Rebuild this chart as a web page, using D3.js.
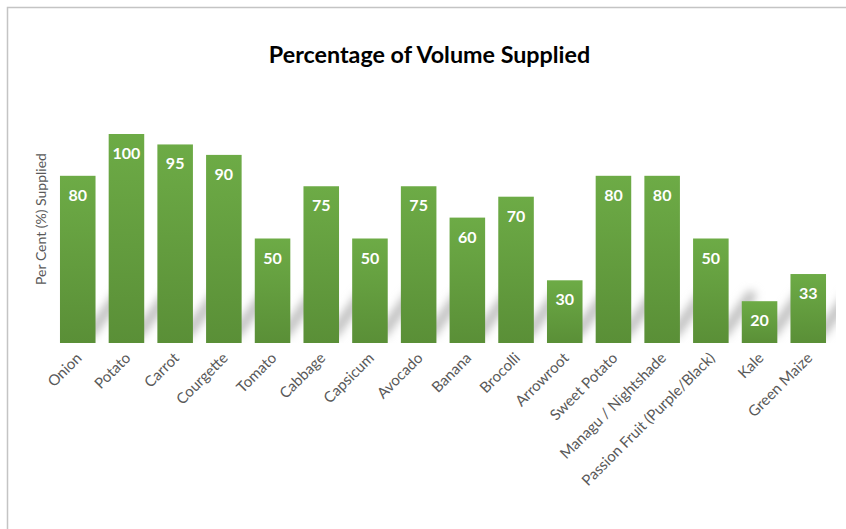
<!DOCTYPE html>
<html>
<head>
<meta charset="utf-8">
<script src="https://cdn.jsdelivr.net/npm/d3@7"></script>
<style>
  html, body { margin: 0; padding: 0; background: #fff; }
  svg { display: block; }
</style>
</head>
<body>
<svg id="chart" width="846" height="529"></svg>
<script>
const categories = ["Onion", "Potato", "Carrot", "Courgette", "Tomato", "Cabbage", "Capsicum", "Avocado",
  "Banana", "Brocolli", "Arrowroot", "Sweet Potato", "Managu / Nightshade", "Passion Fruit (Purple/Black)",
  "Kale", "Green Maize"];
const values = [80, 100, 95, 90, 50, 75, 50, 75, 60, 70, 30, 80, 80, 50, 20, 33];
const yDomain = [0, 100];
const titleText = "Percentage of Volume Supplied";
const yTitle = "Per Cent (%) Supplied";

(function () {
const svg = d3.select("#chart");
const W = 846, H = 529;
const base = 343, plotTop = 134;

const x = d3.scaleBand().domain(categories).range([53.4, 832.6]).paddingInner(0.27).paddingOuter(0.135);
const y = d3.scaleLinear().domain(yDomain).range([base, plotTop]);

const defs = svg.append("defs");
const grad = defs.append("linearGradient").attr("id", "barGrad").attr("x1", 0).attr("y1", 0).attr("x2", 0).attr("y2", 1);
grad.append("stop").attr("offset", "0%").attr("stop-color", "#6dab46");
grad.append("stop").attr("offset", "100%").attr("stop-color", "#5a8f37");
const blur = defs.append("filter").attr("id", "shBlur").attr("x", "-50%").attr("y", "-50%").attr("width", "200%").attr("height", "200%");
blur.append("feGaussianBlur").attr("stdDeviation", 4);
defs.append("clipPath").attr("id", "plotClip").append("rect")
  .attr("x", 40).attr("y", 100).attr("width", 796).attr("height", base - 100);

// chart border
svg.append("path").attr("d", `M7.5,${H} L7.5,7.5 L${W},7.5`)
  .attr("fill", "none").attr("stroke", "#c4c4c4").attr("stroke-width", 1.5);

// title
svg.append("text").attr("x", 429.5).attr("y", 63).attr("text-anchor", "middle")
  .style("font-family", "Lato, 'Open Sans', sans-serif").style("font-weight", "bold")
  .style("font-size", "23.3px").attr("fill", "#000").text(titleText);

// y axis title
svg.append("text").attr("transform", `translate(46,${219}) rotate(-90)`).attr("text-anchor", "middle")
  .style("font-family", "Lato, sans-serif").style("font-size", "14px").attr("fill", "#595959").text(yTitle);

// shadows
const sh = svg.append("g").attr("clip-path", "url(#plotClip)").append("g").attr("filter", "url(#shBlur)");
sh.selectAll("line").data(categories).join("line")
  .attr("x1", d => x(d) + x.bandwidth() - 4).attr("y1", base - 11)
  .attr("x2", d => x(d) + x.bandwidth() + 22).attr("y2", base - 47)
  .attr("stroke", "#c2c2c2").attr("stroke-width", 11).attr("stroke-linecap", "round");

// bars
svg.append("g").selectAll("rect").data(categories).join("rect")
  .attr("x", d => x(d)).attr("width", x.bandwidth())
  .attr("y", (d, i) => y(values[i])).attr("height", (d, i) => base - y(values[i]))
  .attr("fill", "url(#barGrad)");

// value labels
svg.append("g").selectAll("text").data(categories).join("text")
  .attr("x", d => x(d) + x.bandwidth() / 2)
  .attr("y", (d, i) => y(values[i]) + 25)
  .attr("text-anchor", "middle")
  .style("font-family", "Lato, 'Open Sans', sans-serif").style("font-weight", "bold")
  .style("font-size", "16px").attr("fill", "#fff")
  .text((d, i) => values[i]);

// x axis labels
const xAxis = d3.axisBottom(x).tickSize(0).tickPadding(0);
const gx = svg.append("g").attr("transform", `translate(0,${base})`).call(xAxis);
gx.select(".domain").remove();
gx.selectAll(".tick text")
  .style("font-family", "Lato, sans-serif").style("font-size", "15px").attr("fill", "#595959")
  .attr("text-anchor", "end").attr("dy", 0).attr("y", 0).attr("x", 0)
  .attr("transform", "translate(5,16) rotate(-45)");
})();
</script>
</body>
</html>
